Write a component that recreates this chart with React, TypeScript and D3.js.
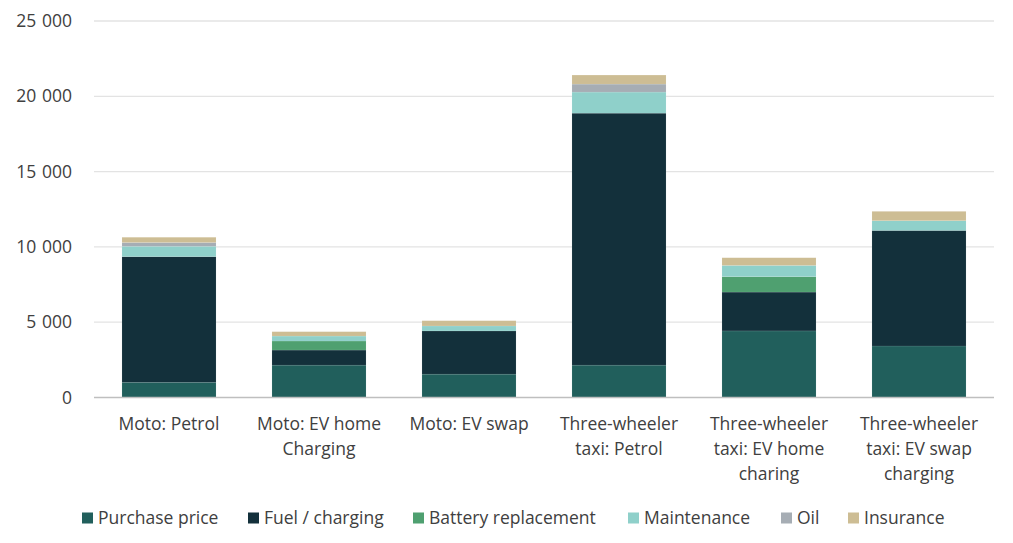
import React from "react";
import { scaleBand, scaleLinear, stack } from "d3";

const categories = [
  ["Moto: Petrol"],
  ["Moto: EV home", "Charging"],
  ["Moto: EV swap"],
  ["Three-wheeler", "taxi: Petrol"],
  ["Three-wheeler", "taxi: EV home", "charing"],
  ["Three-wheeler", "taxi: EV swap", "charging"],
];

const seriesNames = [
  "Purchase price",
  "Fuel / charging",
  "Battery replacement",
  "Maintenance",
  "Oil",
  "Insurance",
];

const seriesColors = ["#215f5c", "#13303b", "#4fa070", "#8fd0ca", "#a6adb4", "#cdbd94"];

// values per series, one per category
const purchase = [1010, 2150, 1550, 2150, 4420, 3420];
const fuel = [8340, 1000, 2870, 16730, 2580, 7670];
const battery = [0, 600, 0, 0, 1020, 0];
const maintenance = [690, 330, 330, 1400, 750, 650];
const oil = [250, 0, 0, 530, 0, 0];
const insurance = [350, 290, 350, 600, 510, 620];

const yTicks = [0, 5000, 10000, 15000, 20000, 25000];

const W = 1013;
const H = 543;
const margin = { left: 94, right: 19, top: 21, bottom: 145.5 };

const fmt = (v: number) =>
  v === 0 ? "0" : `${Math.floor(v / 1000)}\u2009\u2009${String(v % 1000).padStart(3, "0")}`;

export default function App() {
  const allSeries = [purchase, fuel, battery, maintenance, oil, insurance];
  const rows = categories.map((_, i) => {
    const r: Record<string, number> = { idx: i };
    seriesNames.forEach((s, j) => (r[s] = allSeries[j][i]));
    return r;
  });

  const stacked = stack<Record<string, number>>().keys(seriesNames)(rows);

  const x = scaleBand<number>()
    .domain(categories.map((_, i) => i))
    .range([margin.left, W - margin.right])
    .paddingInner(0.373)
    .paddingOuter(0.1865);

  const y = scaleLinear()
    .domain([0, 25000])
    .range([H - margin.bottom, margin.top]);

  const font = "Open Sans, sans-serif";
  const textColor = "#404040";
  const fs = 17.5;

  const legendX = [82, 248, 413, 628, 781, 848];

  return (
    <div style={{ position: "absolute", left: 0, top: 0 }}>
      <svg width={W} height={H} style={{ display: "block", background: "#fff" }}>
        {/* grid */}
        {yTicks.slice(1).map((t) => (
          <line
            key={t}
            x1={margin.left}
            x2={W - margin.right}
            y1={y(t)}
            y2={y(t)}
            stroke="#e3e3e3"
            strokeWidth={1.3}
          />
        ))}
        {yTicks.map((t) => (
          <text
            key={t}
            x={72}
            y={y(t)}
            dy="0.35em"
            textAnchor="end"
            fontFamily={font}
            fontSize={fs}
            fill={textColor}
          >
            {fmt(t)}
          </text>
        ))}

        {/* bars */}
        {stacked.map((layer, j) => (
          <g key={layer.key} fill={seriesColors[j]}>
            {layer.map((d, i) =>
              d[1] - d[0] > 0 ? (
                <rect
                  key={i}
                  x={x(i)}
                  width={x.bandwidth()}
                  y={y(d[1])}
                  height={y(d[0]) - y(d[1])}
                  stroke="#ffffff"
                  strokeOpacity={0.15}
                  strokeWidth={0.6}
                />
              ) : null,
            )}
          </g>
        ))}

        {/* axis */}
        <line
          x1={margin.left}
          x2={W - margin.right}
          y1={y(0)}
          y2={y(0)}
          stroke="#bfbfbf"
          strokeWidth={1.3}
        />

        {/* category labels */}
        {categories.map((lines, i) => (
          <text
            key={i}
            textAnchor="middle"
            fontFamily={font}
            fontSize={fs}
            fill={textColor}
          >
            {lines.map((l, k) => (
              <tspan key={k} x={x(i)! + x.bandwidth() / 2} y={424 + k * 25} dy="0.35em">
                {l}
              </tspan>
            ))}
          </text>
        ))}

        {/* legend */}
        {seriesNames.map((s, j) => (
          <g key={s} transform={`translate(${legendX[j]},518)`}>
            <rect x={0} y={-5.5} width={11} height={11} fill={seriesColors[j]} />
            <text x={16} dy="0.35em" fontFamily={font} fontSize={fs} fill={textColor}>
              {s}
            </text>
          </g>
        ))}
      </svg>
    </div>
  );
}
